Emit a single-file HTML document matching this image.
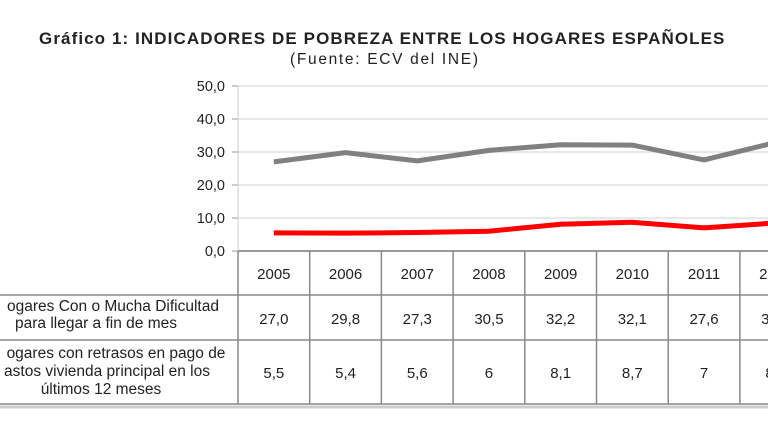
<!DOCTYPE html>
<html><head><meta charset="utf-8"><style>
html,body{margin:0;padding:0;background:#fff;width:768px;height:432px;overflow:hidden}
svg text{font-family:"Liberation Sans",sans-serif;fill:#222}
</style></head><body>
<svg id="c" width="768" height="432" viewBox="0 0 768 432">
<text x="382" y="44" text-anchor="middle" font-size="17" font-weight="bold" letter-spacing="0.6" textLength="686" lengthAdjust="spacing">Gráfico 1: INDICADORES DE POBREZA ENTRE LOS HOGARES ESPAÑOLES</text>
<text x="384" y="64" text-anchor="middle" font-size="15.5" textLength="188" lengthAdjust="spacing">(Fuente:  ECV del INE)</text>
<g id="grid"></g><g id="lines"></g><g id="table"></g>
</svg>
<script>
const years=["2005","2006","2007","2008","2009","2010","2011","2012"];
const dificultad=[27.0,29.8,27.3,30.5,32.2,32.1,27.6,32.9];
const retrasos=[5.5,5.4,5.6,6,8.1,8.7,7,8.5];
const dificultadLabels=["27,0","29,8","27,3","30,5","32,2","32,1","27,6","32,9"];
const retrasosLabels=["5,5","5,4","5,6","6","8,1","8,7","7","8,5"];
const yTicks=[0,10,20,30,40,50];
const NS="http://www.w3.org/2000/svg";
const x0=238,cw=71.7,yBase=251,yTop=86,yMax=50;
const y=v=>yBase-(v/yMax)*(yBase-yTop);
const xc=i=>x0+cw*(i+0.5);
function mk(t,a,p){const e=document.createElementNS(NS,t);for(const k in a)e.setAttribute(k,a[k]);p.appendChild(e);return e;}
const g=document.getElementById('grid'),L=document.getElementById('lines'),T=document.getElementById('table');
yTicks.forEach(v=>{
 const ln=mk('line',{x1:x0,x2:900,y1:y(v),y2:y(v),stroke:v===0?'#999':'#e0e0e0','stroke-width':1.5},g);
 
 
 mk('line',{x1:232,x2:x0,y1:y(v),y2:y(v),stroke:'#999'},g);
 const t=mk('text',{x:225,y:y(v)+5,'text-anchor':'end','font-size':14.5},g);
 t.textContent=v.toFixed(1).replace('.',',');
 
 
});
mk('line',{x1:x0,x2:x0,y1:yTop,y2:yBase,stroke:'#ccc'},g);
function series(vals,col,name){
 const p=mk('polyline',{points:vals.map((v,i)=>xc(i)+','+y(v)).join(' '),fill:'none',stroke:col,'stroke-width':5,'stroke-linejoin':'round'},L);
 
 
}
series(dificultad,'#808080','line-dificultad');
series(retrasos,'#ff0000','line-retrasos');
const rows=[251,295,340,404];
rows.forEach((r,i)=>mk('line',{x1:i===0?x0:0,x2:900,y1:r,y2:r,stroke:'#888','stroke-width':1.5},T));
mk('line',{x1:0,x2:900,y1:407,y2:407,stroke:'#ccc','stroke-width':3},T);
for(let i=0;i<=years.length;i++){mk('line',{x1:x0+cw*i,x2:x0+cw*i,y1:yBase,y2:404,stroke:'#888','stroke-width':1.5},T);}
years.forEach((yr,i)=>{
 const a=mk('text',{x:xc(i),y:279,'text-anchor':'middle','font-size':15},T);a.textContent=yr;
 
 const b=mk('text',{x:xc(i),y:324,'text-anchor':'middle','font-size':15},T);b.textContent=dificultadLabels[i];
 
 const c=mk('text',{x:xc(i),y:378,'text-anchor':'middle','font-size':15},T);c.textContent=retrasosLabels[i];
 
});
const labs=[["ogares Con o Mucha Dificultad",311,113],["para llegar a fin de mes",328,96],["ogares con retrasos en pago de",358,116],["astos vivienda principal en los",376,107],["últimos 12 meses",394,101]];
labs.forEach(([s,yy,xx])=>{
 const t=mk('text',{x:xx,y:yy,'text-anchor':'middle','font-size':15.5},T);
 t.textContent=s;
 
 
});
</script>
</body></html>
